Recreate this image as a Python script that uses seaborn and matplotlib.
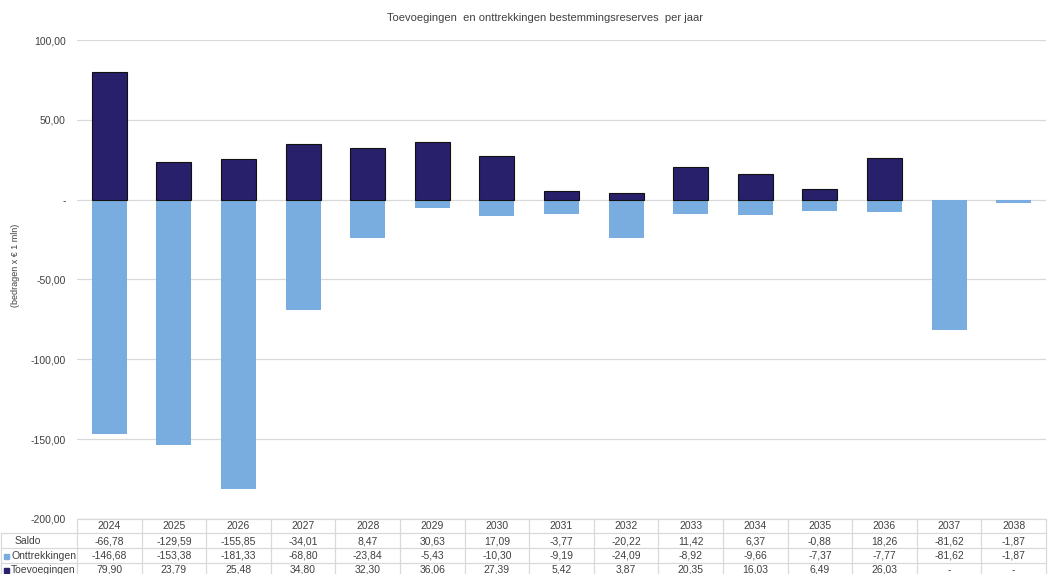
import numpy as np
import pandas as pd
import matplotlib
matplotlib.use("Agg")
import matplotlib.pyplot as plt
import matplotlib.transforms as mtransforms
from matplotlib.lines import Line2D
from matplotlib.patches import Rectangle
import seaborn as sns

years = ["2024", "2025", "2026", "2027", "2028", "2029", "2030", "2031",
         "2032", "2033", "2034", "2035", "2036", "2037", "2038"]
saldo = [-66.78, -129.59, -155.85, -34.01, 8.47, 30.63, 17.09, -3.77,
         -20.22, 11.42, 6.37, -0.88, 18.26, -81.62, -1.87]
onttrekkingen = [-146.68, -153.38, -181.33, -68.80, -23.84, -5.43, -10.30, -9.19,
                 -24.09, -8.92, -9.66, -7.37, -7.77, -81.62, -1.87]
toevoegingen = [79.90, 23.79, 25.48, 34.80, 32.30, 36.06, 27.39, 5.42,
                3.87, 20.35, 16.03, 6.49, 26.03, 0.0, 0.0]
yticks = [100, 50, 0, -50, -100, -150, -200]

NAVY = "#28206A"
LIGHT = "#7AADDF"
GRID = "#D9D9D9"
TXT = "#404040"

sns.set_theme(style="white")
plt.rcParams['font.family'] = ['Liberation Sans', 'DejaVu Sans']

W, H = 1049, 574
fig = plt.figure(figsize=(W / 100, H / 100), dpi=100)
ax_l, ax_r, ax_t, ax_b = 77, 1046, 40, 519
ax = fig.add_axes([ax_l / W, 1 - ax_b / H, (ax_r - ax_l) / W, (ax_b - ax_t) / H])

toev_plot = [v if v != 0 else np.nan for v in toevoegingen]
df = pd.DataFrame({"jaar": years, "Toevoegingen": toev_plot, "Onttrekkingen": onttrekkingen})
sns.barplot(data=df, x="jaar", y="Onttrekkingen", color=LIGHT, saturation=1,
            width=0.54, ax=ax, linewidth=0, zorder=3)
sns.barplot(data=df, x="jaar", y="Toevoegingen", color=NAVY, saturation=1,
            width=0.54, ax=ax, edgecolor="#111111", linewidth=0.8, zorder=3)

ax.set_xlim(-0.5, len(years) - 0.5)
ax.set_ylim(-200, 100)
ax.set_yticks(yticks)

def fmt(v):
    if v == 0:
        return "-"
    s = f"{v:,.2f}"
    return s.replace(",", "X").replace(".", ",").replace("X", ".")

ax.set_yticklabels([fmt(v) for v in yticks], fontsize=7.5, color=TXT)
ax.tick_params(axis="y", length=0, pad=8)
ax.set_xticks([])
ax.set_xlabel("")
ax.set_ylabel("")
for s in ax.spines.values():
    s.set_visible(False)
for v in yticks:
    ax.axhline(v, color=GRID, linewidth=0.9, zorder=1)

fig.text(0.5 + 0.02, 1 - 18 / H, "Toevoegingen  en onttrekkingen bestemmingsreserves  per jaar",
         ha="center", va="center", fontsize=8, color=TXT)
fig.text(15 / W, 1 - 265 / H, "(bedragen x € 1 mln)", rotation=90, ha="center",
         va="center", fontsize=6.5, color=TXT)

# data table below the axes
tr = mtransforms.blended_transform_factory(ax.transData, fig.transFigure)
def fy(p):
    return 1 - p / H

row_lines = [519, 533, 548, 563, 578]
row_centers = [526, 541, 556, 570]
n = len(years)
for yl in row_lines[1:]:
    fig.add_artist(Line2D([1 / W, ax_r / W], [fy(yl), fy(yl)], color=GRID, lw=0.9))
fig.add_artist(Line2D([ax_l / W, ax_r / W], [fy(519), fy(519)], color=GRID, lw=0.9))
for i in range(n + 1):
    fig.add_artist(Line2D([i - 0.5, i - 0.5], [fy(519), fy(578)], color=GRID, lw=0.9,
                          transform=tr))
fig.add_artist(Line2D([1 / W, 1 / W], [fy(533), fy(578)], color=GRID, lw=0.9))

rows = [("Saldo", saldo, None), ("Onttrekkingen", onttrekkingen, LIGHT),
        ("Toevoegingen", toevoegingen, NAVY)]
for i, y in enumerate(years):
    fig.text(i, fy(row_centers[0]), y, transform=tr, ha="center", va="center",
             fontsize=7.5, color=TXT)
for r, (lab, vals, col) in enumerate(rows):
    yc = fy(row_centers[r + 1])
    if col is None:
        fig.text(15 / W, yc, lab, ha="left", va="center", fontsize=7.5, color=TXT)
    else:
        fig.add_artist(Rectangle((4 / W, yc - 2.5 / H), 5 / W, 5 / H, color=col,
                                 transform=fig.transFigure))
        fig.text(11 / W, yc, lab, ha="left", va="center", fontsize=7.5, color=TXT)
    for i, v in enumerate(vals):
        fig.text(i, yc, fmt(v), transform=tr, ha="center", va="center",
                 fontsize=7.5, color=TXT)

fig.savefig("out.png", dpi=100)
